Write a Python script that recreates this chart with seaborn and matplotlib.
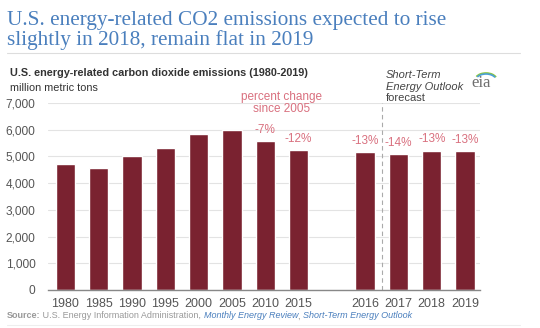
import matplotlib
matplotlib.use("Agg")
import matplotlib.pyplot as plt
import seaborn as sns
import pandas as pd
from matplotlib.patches import Arc

years = ["1980", "1985", "1990", "1995", "2000", "2005", "2010", "2015", "2016", "2017", "2018", "2019"]
emissions = [4735, 4570, 5030, 5300, 5850, 5990, 5560, 5230, 5165, 5100, 5215, 5205]
pct_labels = ["", "", "", "", "", "", "-7%", "-12%", "-13%", "-14%", "-13%", "-13%"]
slot_order = ["1980", "1985", "1990", "1995", "2000", "2005", "2010", "2015", " ", "2016", "2017", "2018", "2019"]
y_ticks = [0, 1000, 2000, 3000, 4000, 5000, 6000, 7000]

df = pd.DataFrame({"year": years, "value": emissions, "pct": pct_labels})

sns.set_theme(style="white")
plt.rcParams["font.family"] = ["Liberation Sans", "DejaVu Sans"]

BAR = "#7a2230"
PINK = "#d9707f"
GRAY = "#555555"
BLUE = "#4a7fbd"

fig = plt.figure(figsize=(5.4, 3.28), dpi=100)
ax = fig.add_axes([48 / 540, 1 - 290 / 328, (480 - 48) / 540, (290 - 103) / 328])

sns.barplot(data=df, x="year", y="value", order=slot_order, color=BAR,
            width=0.58, saturation=1, ax=ax, errorbar=None)

ax.set_ylim(0, 7000)
ax.set_xlim(-0.52, len(slot_order) - 0.55)
ax.set_yticks(y_ticks)
ax.set_yticklabels([f"{v:,}" for v in y_ticks])
ax.yaxis.grid(True, color="#e3e3e3", linewidth=0.8)
ax.set_axisbelow(True)
for s in ["top", "right", "left"]:
    ax.spines[s].set_visible(False)
ax.spines["bottom"].set_color("#888888")
ax.spines["bottom"].set_linewidth(1.0)
ax.tick_params(axis="both", length=0, labelsize=9, labelcolor=GRAY, pad=6)
ax.tick_params(axis="y", labelsize=8.6, pad=9)
ax.set_xlabel("")
ax.set_ylabel("")

# percent labels above bars
for yr, v, p in zip(years, emissions, pct_labels):
    if p:
        xi = slot_order.index(yr)
        ax.text(xi, v + 420, p, ha="center", va="center", fontsize=8.5, color=PINK)

ax.text(6.5, 7230, "percent change", ha="center", va="center", fontsize=8.5, color=PINK, clip_on=False)
ax.text(6.5, 6780, "since 2005", ha="center", va="center", fontsize=8.5, color=PINK, clip_on=False)

# forecast divider
xdiv = (slot_order.index("2016") + slot_order.index("2017")) / 2
ax.axvline(xdiv, ymin=0, ymax=1, color="#aaaaaa", linestyle=(0, (4, 3)), linewidth=0.8)

# titles
fig.text(7 / 540, 1 - 25 / 328, "U.S. energy-related CO2 emissions expected to rise",
         ha="left", va="baseline", fontsize=15.3, color=BLUE, family=["Liberation Serif"])
fig.text(7 / 540, 1 - 45 / 328, "slightly in 2018, remain flat in 2019",
         ha="left", va="baseline", fontsize=15.3, color=BLUE, family=["Liberation Serif"])
fig.add_artist(plt.Line2D([7 / 540, 520 / 540], [1 - 53 / 328, 1 - 53 / 328], color="#dddddd", linewidth=0.8))

fig.text(10 / 540, 1 - 73 / 328, "U.S. energy-related carbon dioxide emissions (1980-2019)",
         ha="left", va="center", fontsize=7.8, fontweight="bold", color="#333333")
fig.text(10 / 540, 1 - 88 / 328, "million metric tons", ha="left", va="center", fontsize=7.8, color="#333333")

fig.text(386 / 540, 1 - 75 / 328, "Short-Term", ha="left", va="center",
         fontsize=8, style="italic", color="#444444")
fig.text(386 / 540, 1 - 86.5 / 328, "Energy Outlook", ha="left", va="center",
         fontsize=8, style="italic", color="#444444")
fig.text(386 / 540, 1 - 98 / 328, "forecast", ha="left", va="center", fontsize=8, color="#444444")

# eia logo
fig.text(481 / 540, 1 - 83 / 328, "eia", ha="center", va="center", fontsize=12,
         family=["Liberation Serif"], color="#6f6f6f")
for i, c in enumerate(["#8cc63f", "#4a9fd6"]):
    fig.add_artist(Arc((486 / 540, 1 - 80 / 328), 22 / 540 - i * 2 / 540, 14 / 328 - i * 2 / 328,
                       theta1=25, theta2=150, color=c, linewidth=1.2, transform=fig.transFigure))

# source
src_y = 1 - 316 / 328
t = fig.text(7 / 540, src_y, "Source:", ha="left", va="center", fontsize=6.5, fontweight="bold", color="#999999")
fig.canvas.draw()
r = fig.canvas.get_renderer()
parts = [(" U.S. Energy Information Administration, ", "normal", "#999999"),
         ("Monthly Energy Review", "italic", BLUE),
         (", ", "normal", "#999999"),
         ("Short-Term Energy Outlook", "italic", BLUE)]
prev = t
for txt, st, c in parts:
    bb = prev.get_window_extent(renderer=r)
    x = bb.x1 / fig.bbox.width
    prev = fig.text(x, src_y, txt, ha="left", va="center", fontsize=6.5, style=st, color=c)
    fig.canvas.draw()

fig.add_artist(plt.Line2D([7 / 540, 520 / 540], [1 - 325 / 328, 1 - 325 / 328], color="#eeeeee", linewidth=0.8))

fig.savefig("out.png", dpi=100)
